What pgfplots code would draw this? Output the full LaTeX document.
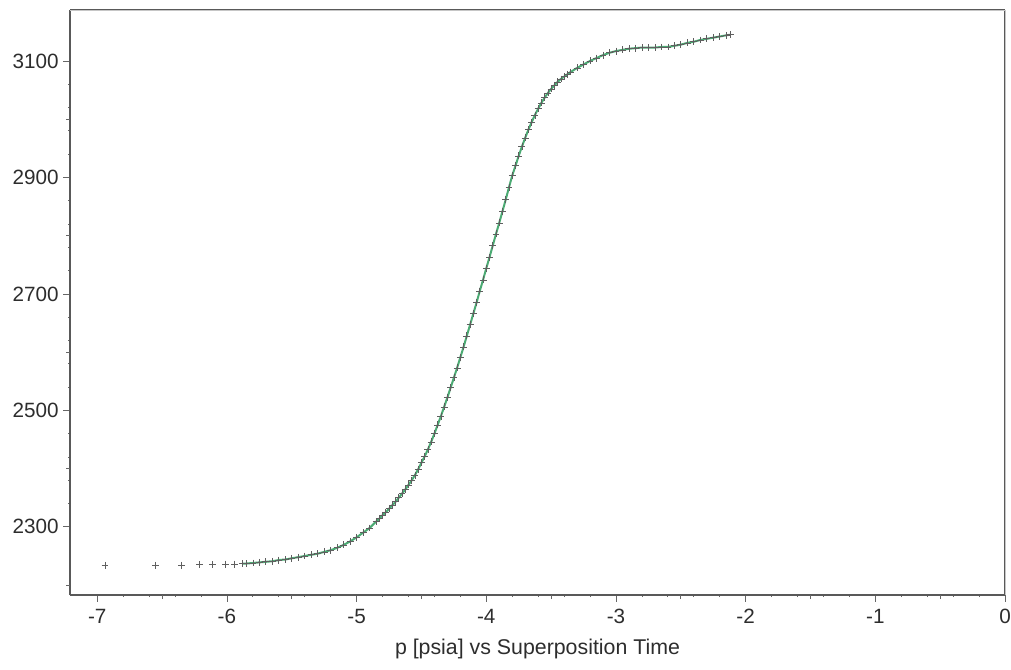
\documentclass[border=0pt]{standalone}
\usepackage{pgfplots}
\pgfplotsset{compat=1.18}
\usepackage{fontspec}
\setmainfont{Liberation Sans}
\usetikzlibrary{calc}
\definecolor{curvegreen}{RGB}{75,170,115}
\definecolor{markgray}{RGB}{95,95,95}
\definecolor{txtgray}{RGB}{45,45,45}
\pgfplotstableread{
x y
-6.94 2234
-6.55 2234
-6.35 2234
-6.21 2235
-6.11 2235
-6.01 2236
-5.94 2236
-5.88 2237
-5.85 2237
-5.80 2238
-5.75 2239
-5.70 2240
-5.65 2241
-5.60 2243
-5.55 2244
-5.50 2246
-5.45 2248
-5.40 2250
-5.35 2252
-5.30 2254
-5.25 2257
-5.20 2260
-5.15 2264
-5.10 2269
-5.05 2275
-5.00 2282
-4.95 2290
-4.90 2298
-4.85 2309
-4.825 2314
-4.800 2320
-4.775 2325
-4.750 2331
-4.725 2337
-4.700 2343
-4.675 2350
-4.650 2357
-4.625 2364
-4.600 2372
-4.575 2380
-4.550 2389
-4.525 2399
-4.500 2410
-4.475 2421
-4.450 2433
-4.425 2446
-4.400 2460
-4.375 2475
-4.350 2490
-4.325 2506
-4.300 2522
-4.275 2539
-4.250 2556
-4.225 2573
-4.200 2591
-4.175 2609
-4.150 2628
-4.125 2647
-4.100 2666
-4.075 2685
-4.050 2705
-4.025 2724
-4.000 2744
-3.975 2763
-3.950 2783
-3.925 2803
-3.900 2822
-3.875 2842
-3.850 2862
-3.825 2883
-3.800 2903
-3.775 2920
-3.750 2937
-3.725 2953
-3.700 2968
-3.675 2982
-3.650 2995
-3.625 3007
-3.600 3018
-3.575 3028
-3.550 3037
-3.525 3045
-3.500 3052
-3.475 3058
-3.450 3064
-3.425 3069
-3.400 3073
-3.375 3077
-3.35 3081
-3.30 3088
-3.25 3094
-3.20 3100
-3.15 3105
-3.10 3110
-3.05 3114
-3.00 3117
-2.95 3119
-2.90 3121
-2.85 3122
-2.80 3123
-2.75 3123
-2.70 3123
-2.65 3124
-2.60 3124
-2.55 3126
-2.50 3128
-2.45 3131
-2.40 3133
-2.35 3136
-2.30 3138
-2.25 3140
-2.20 3142
-2.15 3144
-2.12 3145
}\pdata
\begin{document}
\begin{tikzpicture}
\begin{axis}[
  scale only axis,
  width=701.25pt, height=438.75pt,
  xmin=-7.21, xmax=0,
  ymin=2183, ymax=3187.5,
  xtick={-7,-6,-5,-4,-3,-2,-1,0},
  ytick={2300,2500,2700,2900,3100},
  extra x ticks={-6.5,-5.5,-4.5,-3.5,-2.5,-1.5,-0.5},
  extra x tick labels={},
  extra x tick style={major tick length=3pt},
  extra y ticks={2200,2400,2600,2800,3000},
  extra y tick labels={},
  extra y tick style={major tick length=3pt},
  minor x tick num=4,
  minor y tick num=4,
  major tick length=5pt,
  minor tick length=1.5pt,
  tick align=outside,
  xtick pos=bottom, ytick pos=left,
  tick style={gray!80!black, line width=0.6pt},
  axis line style={gray!75},
  separate axis lines,
  x axis line style={gray!70!black, line width=0.8pt},
  y axis line style={gray!70!black, line width=0.8pt},
  /pgf/number format/assume math mode=true,
  /pgf/number format/1000 sep={},
  ticklabel style={font=\fontsize{15.5}{18}\selectfont, text=txtgray},
  xticklabel style={yshift=-2pt},
  xlabel={p [psia] vs Superposition Time},
  xlabel style={font=\fontsize{16}{19}\selectfont, text=txtgray, yshift=3pt},
  clip=false,
]
\draw[gray!45, line width=0.7pt] (axis cs:-7.21,3187.5) -- (axis cs:0,3187.5) -- (axis cs:0,2183);
\addplot[color=curvegreen, line width=1.5pt, no marks,
  restrict x to domain=-5.9:0] table {\pdata};
\addplot[only marks, mark=+, mark size=2.6pt,
  mark options={color=markgray, line width=0.5pt, solid}] table {\pdata};
\end{axis}
\pgfresetboundingbox
\path ($(current axis.south west)+(-52.5pt,-55.5pt)$) rectangle ($(current axis.north east)+(4.5pt,7.5pt)$);
\end{tikzpicture}
\end{document}
